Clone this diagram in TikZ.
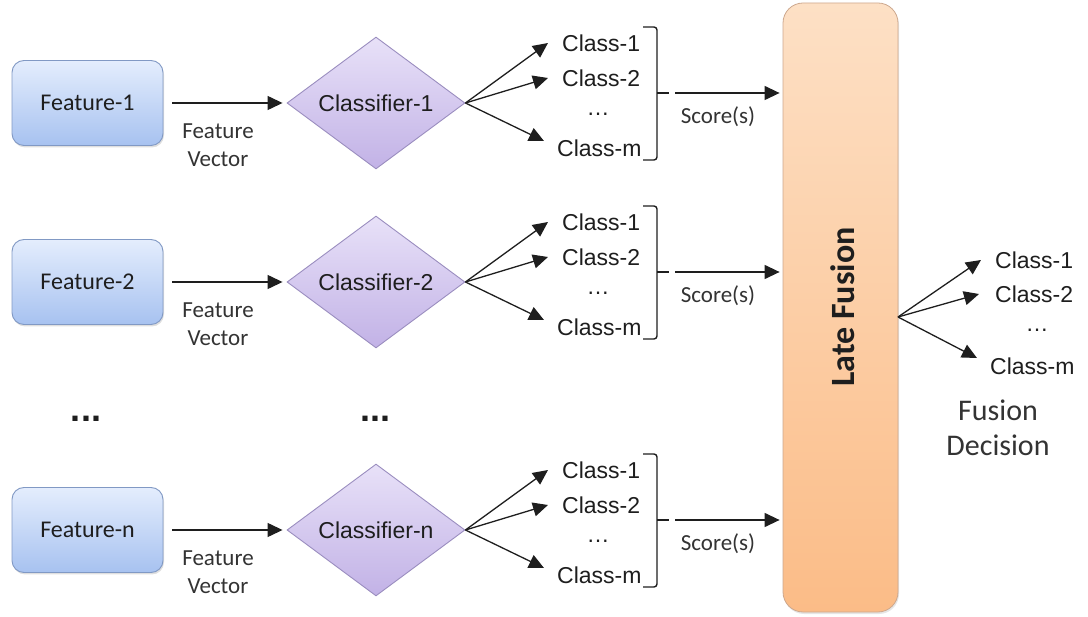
\documentclass[tikz,border=0pt]{standalone}
\usepackage{fontspec}
\setmainfont{Liberation Sans}
\newfontfamily\calfont{Carlito}
\usetikzlibrary{shapes.geometric,arrows.meta,shadows}

\definecolor{feattop}{HTML}{E4EDFD}
\definecolor{featbot}{HTML}{A7C2F0}
\definecolor{featedge}{HTML}{8199C4}
\definecolor{clftop}{HTML}{E8E1F8}
\definecolor{clfbot}{HTML}{C2B2E6}
\definecolor{clfedge}{HTML}{9A8DBF}
\definecolor{fustop}{HTML}{FDE0C5}
\definecolor{fusbot}{HTML}{FBBC87}
\definecolor{fusedge}{HTML}{CDA88E}
\definecolor{ink}{HTML}{1E1E1E}
\definecolor{softink}{HTML}{333333}

\begin{document}
\begin{tikzpicture}[x=1pt,y=-1pt,
  feat/.style={draw=featedge, line width=0.9pt, rounded corners=12pt,
    top color=feattop, bottom color=featbot,
    minimum width=151pt, minimum height=85pt,
    font=\calfont\fontsize{24}{28}\selectfont, text=ink,
    drop shadow={opacity=0.25, shadow xshift=1pt, shadow yshift=-2pt}},
  clf/.style={diamond, draw=clfedge, line width=0.9pt,
    top color=clftop, bottom color=clfbot,
    minimum width=178pt, minimum height=127pt, inner sep=0pt,
    font=\fontsize{23}{27}\selectfont, text=ink},
  fusion/.style={draw=fusedge, line width=0.8pt, rounded corners=20pt,
    top color=fustop, bottom color=fusbot,
    minimum width=115pt, minimum height=609pt,
    drop shadow={opacity=0.2, shadow xshift=1pt, shadow yshift=-2pt}},
  lab/.style={font=\fontsize{23}{26}\selectfont, text=ink, inner sep=1pt},
  cal/.style={font=\calfont\fontsize{23}{27}\selectfont, text=softink, align=center, inner sep=1pt},
  arr/.style={-{Triangle[length=15pt,width=14pt]}, line width=1.3pt, draw=ink},
  brack/.style={line width=1.4pt, draw=ink, rounded corners=3pt},
  gap/.style={font=\bfseries\fontsize{36}{38}\selectfont, text=ink, inner sep=0pt},
]
\useasboundingbox (0,0) rectangle (1088,617);

% late fusion column
\node[fusion] (L) at (840.5,307.5) {};
\node[rotate=90, font=\calfont\bfseries\fontsize{34}{38}\selectfont, text=ink] (lt) at (843,307) {Late Fusion};

% one row per feature: feature box, classifier, class outputs, scores
\foreach \i/\yy/\fl/\cl in {1/103/Feature-1/Classifier-1,
                           2/282/Feature-2/Classifier-2,
                           3/530/Feature-n/Classifier-n} {
  \node[feat] (f\i) at (87.5,\yy) {\fl};
  \node[clf] (k\i) at (376,\yy) {\cl};
  \draw[arr, shorten <=9pt, shorten >=4pt] (f\i.east) -- (k\i.west);
  \node[cal] (v\i) at (218,\yy+42) {Feature\\[1pt]Vector};

  \node[lab, anchor=west] (a\i) at (561,\yy-60) {Class-1};
  \node[lab, anchor=west] (c\i) at (561,\yy-25) {Class-2};
  \node[lab] (d\i) at (598,\yy+11) {\ldots};
  \node[lab, anchor=west] (m\i) at (556,\yy+45) {Class-m};

  \draw[arr] (k\i.east) -- ([xshift=-13pt]a\i.west);
  \draw[arr] (k\i.east) -- ([xshift=-13pt]c\i.west);
  \draw[arr] (k\i.east) -- ([xshift=-12pt,yshift=7pt]m\i.west);

  \coordinate (b\i) at (657,\yy-10);
  \draw[brack] (643,\yy-76) -- (657,\yy-76) -- (657,\yy+57) -- (643,\yy+57);
  \draw[line width=1.4pt, draw=ink] (b\i) -- ++(12,0);
  \draw[arr, shorten >=3pt] ([xshift=18pt]b\i) -- (b\i -| L.west);
  \node[cal] (s\i) at (718,\yy+14) {Score(s)};
}

% ellipses between the rows
\node[gap] (e1) at (86,419) {...};
\node[gap] (e2) at (375,419) {...};

% fused decision outputs
\coordinate (o) at (898,317);
\node[lab, anchor=west] (r1) at (994,260) {Class-1};
\node[lab, anchor=west] (r2) at (994,294) {Class-2};
\node[lab] (rd) at (1037,330) {\ldots};
\node[lab, anchor=west] (rm) at (989,366) {Class-m};
\draw[arr] (o) -- ([xshift=-13pt]r1.west);
\draw[arr] (o) -- ([xshift=-15pt]r2.west);
\draw[arr] (o) -- ([xshift=-12pt,yshift=8pt]rm.west);
\node[font=\calfont\fontsize{30}{35}\selectfont, text=softink, align=center] (fd) at (998,428) {Fusion\\Decision};
\end{tikzpicture}
\end{document}
